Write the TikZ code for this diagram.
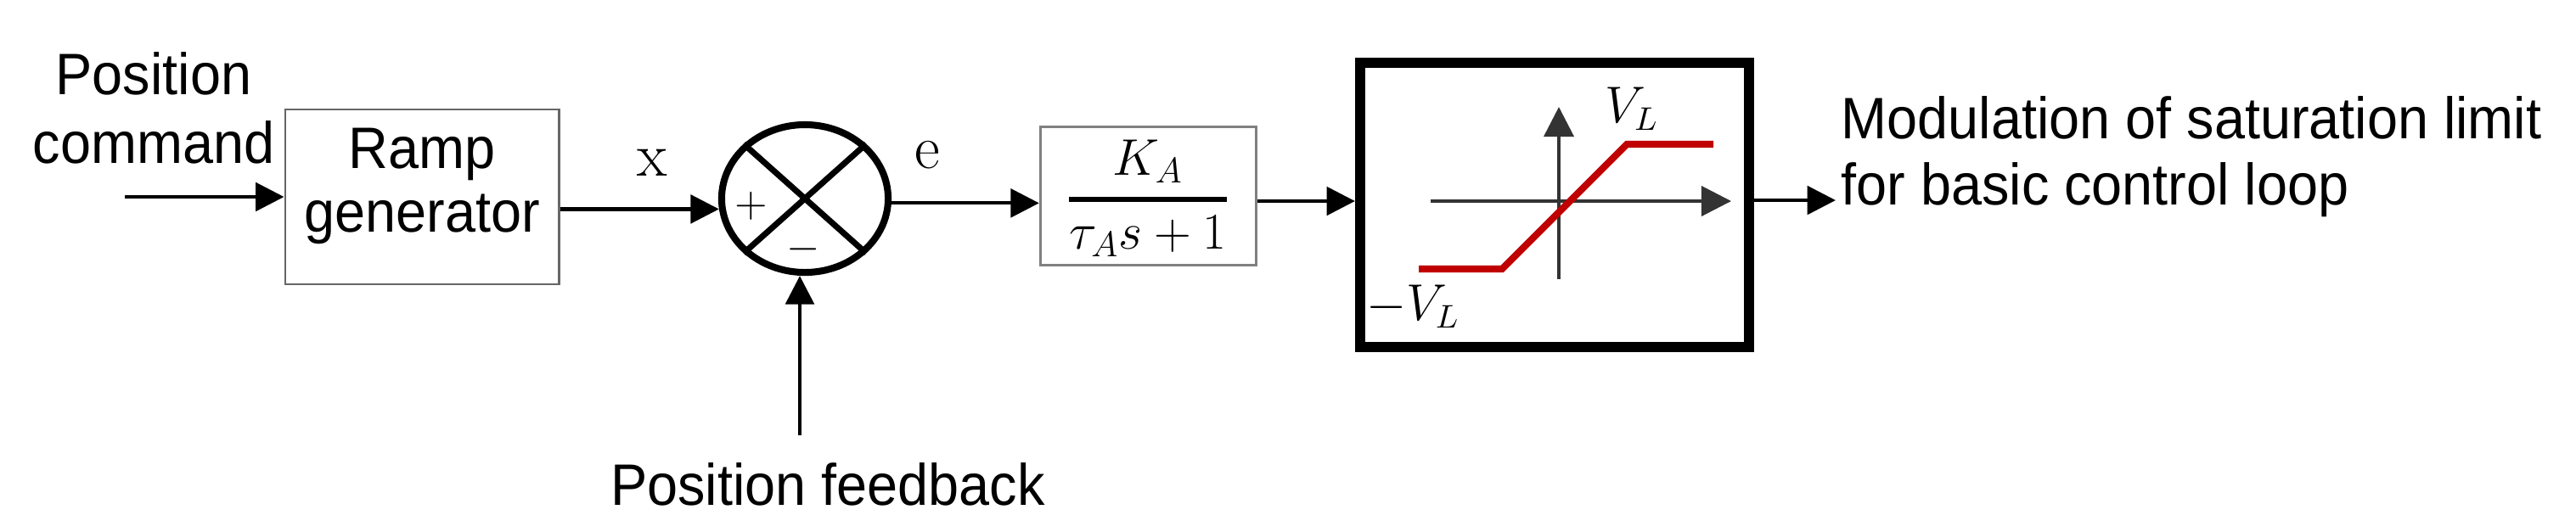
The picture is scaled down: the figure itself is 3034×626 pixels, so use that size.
\documentclass[tikz,border=0pt]{standalone}
\usepackage{amsmath}
\usepackage{graphicx}
\usepackage[no-math]{fontspec}
\setmainfont[FakeStretch=0.94]{Liberation Sans}
\usetikzlibrary{arrows.meta,shapes.geometric}
\begin{document}
\begin{tikzpicture}[x=0.01cm,y=-0.01cm,
  txt/.style={font=\fontsize{19.6}{23}\selectfont, inner sep=0pt, align=center},
  arr/.style={line width=1.2pt,-{Triangle[length=9.5pt,width=9.5pt]}},
  axarr/.style={line width=1.1pt,draw=black!80,-{Triangle[length=10pt,width=10pt]}},
  blockbox/.style={draw=black!60, line width=0.8pt, fill=white, inner sep=0pt},
  satbox/.style={draw=black, line width=3.4pt, inner sep=0pt},
  sumnode/.style={ellipse, draw=black, line width=2.3pt, inner sep=0pt},
  mlab/.style={inner sep=0pt, font=\fontsize{20}{24}\selectfont},
  pmlab/.style={inner sep=0pt, font=\fontsize{12}{14}\selectfont},
  redcurve/.style={draw={rgb,255:red,192;green,0;blue,0}, line width=2.3pt}
]
\useasboundingbox (0,0) rectangle (3034,626);

% input text
\node[txt, anchor=north] (pc) at (181,61) {Position\\command};
\coordinate (inp) at (147,232);

% ramp generator
\node[blockbox, minimum width=3.22cm, minimum height=2.06cm] (ramp) at (497,232) {};
\node[txt, anchor=north, font=\fontsize{19.6}{21.3}\selectfont] (ramptxt) at (497,150) {Ramp\\generator};

% summing junction
\node[sumnode, minimum width=1.96cm, minimum height=1.74cm] (sum) at (948,234) {};
\draw[line width=2pt] (sum.north west) -- (sum.south east);
\draw[line width=2pt] (sum.north east) -- (sum.south west);
\node[pmlab] (plus) at (885,243) {\scalebox{1.2}{$+$}};
\node[pmlab] (minus) at (946,294) {\scalebox{1.2}{$-$}};

% labels x and e
\node[mlab] (xl) at (768,192) {$\mathrm{x}$};
\node[mlab] (el) at (1092,183) {$\mathrm{e}$};

% feedback
\coordinate (fb) at (942,513);
\node[txt, anchor=north] (fbt) at (975,545) {Position feedback};

% first-order block
\node[blockbox, draw=black!50, line width=0.9pt, minimum width=2.54cm, minimum height=1.63cm] (kbox) at (1352.5,231) {};
\node[inner sep=0pt, anchor=base, font=\fontsize{17}{20}\selectfont] (frac) at (1352,250) {$\genfrac{}{}{1.6pt}{0}{K_A}{\tau_A s+1}$};

% saturation block
\node[satbox, minimum width=4.58cm, minimum height=3.35cm] (sat) at (1831,241.5) {};
\coordinate (hx0) at (1685,237);
\coordinate (hx1) at (2039,237);
\coordinate (vy0) at (1836,329);
\coordinate (vy1) at (1836,126);
\draw[axarr] (hx0) -- (hx1);
\draw[axarr] (vy0) -- (vy1);
\coordinate (r1) at (1671,317);
\coordinate (r2) at (1769,317);
\coordinate (r3) at (1916,170);
\coordinate (r4) at (2018,170);
\draw[redcurve] (r1) -- (r2) -- (r3) -- (r4);
\node[inner sep=0pt, font=\fontsize{16}{19}\selectfont] (vl) at (1922,128) {$V_L$};
\node[inner sep=0pt, font=\fontsize{16}{19}\selectfont] (mvl) at (1664,361) {$-V_L$};

% output
\coordinate (outp) at (2162,236);
\node[txt, anchor=north west, align=left, font=\fontsize{19.6}{22.2}\selectfont] (outt) at (2168,113) {Modulation of saturation limit\\for basic control loop};

% connectors
\draw[arr] (inp) -- (ramp.west);
\draw[arr] (ramp.east |- sum.187) -- (sum.187);
\draw[arr] (fb) -- (fb |- sum.south);
\draw[arr] (sum.-3) -- (sum.-3 -| kbox.west);
\draw[arr] (kbox.east |- hx0) -- (sat.west |- hx0);
\draw[arr] (sat.east |- outp) -- (outp);
\end{tikzpicture}
\end{document}
